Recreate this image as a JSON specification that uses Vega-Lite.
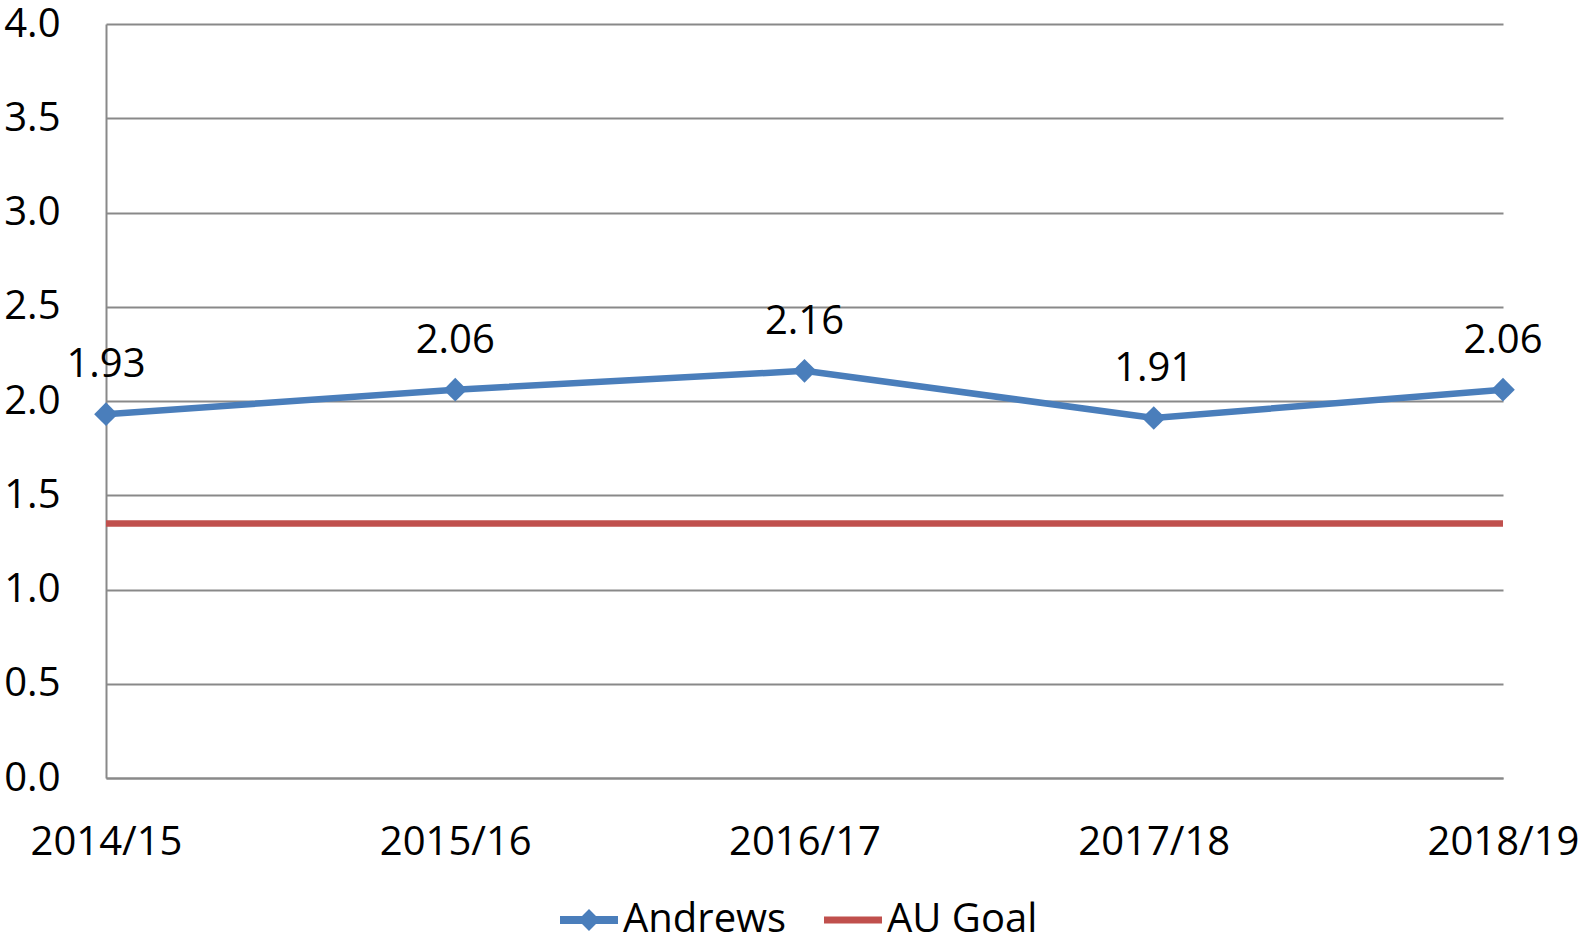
{
  "$schema": "https://vega.github.io/schema/vega-lite/v6.json",
  "width": 1397,
  "height": 754,
  "autosize": "none",
  "padding": {"left": 106, "top": 24, "right": 86, "bottom": 165},
  "background": "white",
  "config": {
    "view": {"stroke": null},
    "font": "Open Sans",
    "axis": {"labelFont": "Open Sans", "labelColor": "#000000", "labelFontSize": 40},
    "legend": {"labelFont": "Open Sans", "labelColor": "#000000"}
  },
  "data": {
    "values": [
      {"year": "2014/15", "value": 1.93, "series": "Andrews"},
      {"year": "2015/16", "value": 2.06, "series": "Andrews"},
      {"year": "2016/17", "value": 2.16, "series": "Andrews"},
      {"year": "2017/18", "value": 1.91, "series": "Andrews"},
      {"year": "2018/19", "value": 2.06, "series": "Andrews"},
      {"year": "2014/15", "value": 1.35, "series": "AU Goal"},
      {"year": "2015/16", "value": 1.35, "series": "AU Goal"},
      {"year": "2016/17", "value": 1.35, "series": "AU Goal"},
      {"year": "2017/18", "value": 1.35, "series": "AU Goal"},
      {"year": "2018/19", "value": 1.35, "series": "AU Goal"}
    ]
  },
  "encoding": {
    "x": {
      "field": "year",
      "type": "ordinal",
      "scale": {"type": "point", "padding": 0},
      "axis": {
        "title": null,
        "labelAngle": 0,
        "ticks": false,
        "labelPadding": 44,
        "labelBaseline": "top",
        "domainColor": "#898989",
        "domainWidth": 2,
        "grid": false
      }
    },
    "y": {
      "field": "value",
      "type": "quantitative",
      "scale": {"domain": [0, 4], "nice": false, "zero": true},
      "axis": {
        "title": null,
        "values": [0, 0.5, 1, 1.5, 2, 2.5, 3, 3.5, 4],
        "format": ".1f",
        "ticks": false,
        "labelPadding": 46,
        "grid": true,
        "gridColor": "#898989",
        "gridWidth": 2,
        "domainColor": "#898989",
        "domainWidth": 2
      }
    }
  },
  "layer": [
    {
      "mark": {"type": "line", "strokeWidth": 6.5},
      "encoding": {
        "color": {
          "field": "series",
          "type": "nominal",
          "scale": {"domain": ["Andrews", "AU Goal"], "range": ["#4A7EBB", "#C0504D"]},
          "legend": {
            "orient": "none",
            "legendX": 454,
            "legendY": 867,
            "direction": "horizontal",
            "title": null,
            "labelFontSize": 40,
            "labelLimit": 500,
            "symbolSize": 3364,
            "labelOffset": 5,
            "columnPadding": 37,
            "symbolStrokeWidth": 0,
            "encode": {
              "symbols": {
                "update": {
                  "shape": {"signal": "datum.value === 'Andrews' ? 'M-1,-0.14L-0.24,-0.14L0,-0.38L0.24,-0.14L1,-0.14L1,0.14L0.24,0.14L0,0.38L-0.24,0.14L-1,0.14Z' : 'M-1,-0.12L1,-0.12L1,0.12L-1,0.12Z'"},
                  "fill": {"signal": "datum.value === 'Andrews' ? '#4A7EBB' : '#C0504D'"},
                  "strokeWidth": {"value": 0},
                  "opacity": {"value": 1},
                  "fillOpacity": {"value": 1}
                }
              }
            }
          }
        }
      }
    },
    {
      "transform": [{"filter": "datum.series === 'Andrews'"}],
      "mark": {"type": "point", "shape": "diamond", "size": 560, "filled": true, "opacity": 1, "color": "#4A7EBB"}
    },
    {
      "transform": [{"filter": "datum.series === 'Andrews'"}],
      "mark": {"type": "text", "dy": -37, "baseline": "alphabetic", "align": "center", "fontSize": 40, "font": "Open Sans", "color": "#000000"},
      "encoding": {"text": {"field": "value", "type": "quantitative", "format": ".2f"}}
    }
  ]
}
